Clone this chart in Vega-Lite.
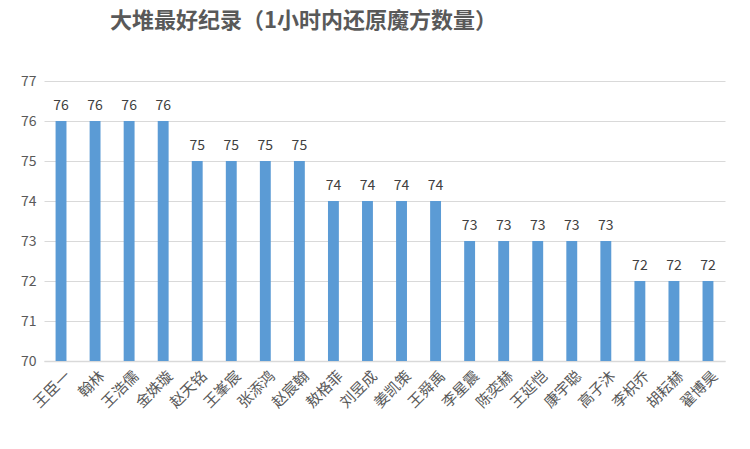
{
  "$schema": "https://vega.github.io/schema/vega-lite/v6.json",
  "width": 681,
  "height": 280,
  "autosize": {"type": "none"},
  "padding": {"left": 44, "top": 81, "right": 25, "bottom": 88},
  "background": "white",
  "config": {
    "view": {"stroke": null},
    "font": "Noto Sans CJK SC"
  },
  "title": {
    "text": "大堆最好纪录（1小时内还原魔方数量）",
    "anchor": "start",
    "frame": "group",
    "dx": 66,
    "offset": 41,
    "fontSize": 22,
    "fontWeight": "bold",
    "color": "#595959",
    "font": "Noto Sans CJK SC"
  },
  "data": {
    "values": [
      {"name": "王臣一", "count": 76},
      {"name": "翰林", "count": 76},
      {"name": "王浩儒", "count": 76},
      {"name": "金姝璇", "count": 76},
      {"name": "赵天铭", "count": 75},
      {"name": "王峯宸", "count": 75},
      {"name": "张添鸿", "count": 75},
      {"name": "赵宸翰", "count": 75},
      {"name": "敖格菲", "count": 74},
      {"name": "刘昱成", "count": 74},
      {"name": "姜凯策", "count": 74},
      {"name": "王舜禹", "count": 74},
      {"name": "李星震", "count": 73},
      {"name": "陈奕赫", "count": 73},
      {"name": "王延恺", "count": 73},
      {"name": "康宇聪", "count": 73},
      {"name": "高子沐", "count": 73},
      {"name": "李枳乔", "count": 72},
      {"name": "胡耘赫", "count": 72},
      {"name": "翟博昊", "count": 72}
    ]
  },
  "encoding": {
    "x": {
      "field": "name",
      "type": "nominal",
      "sort": null,
      "scale": {"paddingInner": 0.68, "paddingOuter": 0.34},
      "axis": {
        "title": null,
        "labelAngle": -45,
        "labelAlign": "right",
        "labelBaseline": "middle",
        "labelFontSize": 15,
        "labelColor": "#595959",
        "labelPadding": 12,
        "labelOffset": 7,
        "ticks": false,
        "domainColor": "#d9d9d9",
        "domainWidth": 1.5
      }
    },
    "y": {
      "field": "count",
      "type": "quantitative",
      "scale": {"domain": [70, 77], "zero": false, "nice": false},
      "axis": {
        "title": null,
        "values": [70, 71, 72, 73, 74, 75, 76, 77],
        "labelOverlap": false,
        "domain": false,
        "ticks": false,
        "labelFontSize": 14,
        "labelColor": "#595959",
        "labelPadding": 8,
        "gridColor": "#d9d9d9",
        "gridWidth": 1.2
      }
    }
  },
  "layer": [
    {
      "mark": {"type": "bar", "color": "#5b9bd5"},
      "encoding": {
        "y2": {"datum": 70}
      }
    },
    {
      "mark": {"type": "text", "baseline": "bottom", "dy": -8, "fontSize": 14, "color": "#404040"},
      "encoding": {
        "text": {"field": "count", "type": "quantitative"}
      }
    }
  ]
}
